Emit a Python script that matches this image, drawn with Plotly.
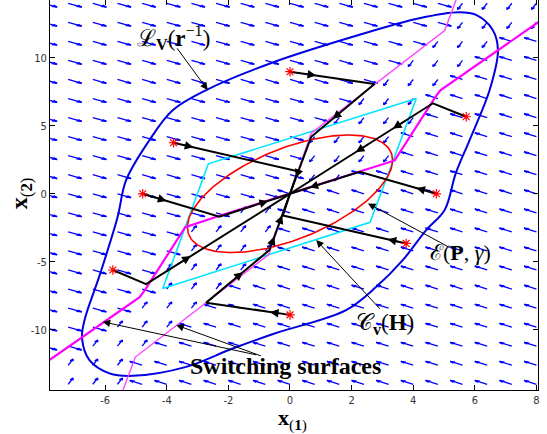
import numpy as np
import plotly.graph_objects as go

# ---------------- data ----------------
# quiver grid (tails of the field arrows)
grid_x = [-8.0, -7.2, -6.4, -5.6, -4.8, -4.0, -3.2, -2.4, -1.6, -0.8, 0.0,
          0.8, 1.6, 2.4, 3.2, 4.0, 4.8, 5.6, 6.4, 7.2, 8.0]
grid_y = [-14.0, -12.6, -11.2, -9.8, -8.4, -7.0, -5.6, -4.2, -2.8, -1.4, 0.0,
          1.4, 2.8, 4.2, 5.6, 7.0, 8.4, 9.8, 11.2, 12.6, 14.0]

# field vector in each of the four regions cut by the switching surfaces
vec_upper_left = (0.44, -0.28)
vec_lower_right = (-0.40, 0.28)
vec_upper_wedge = (-0.16, -0.45)
vec_lower_wedge = (0.16, 0.45)

# switching surfaces (two polylines through the origin)
swA_x = [-8.16, -4.88, -4.70, -3.40, -2.26, 0.0, 2.26, 3.40, 4.70, 4.88, 8.16]
swA_y = [-12.77, -7.60, -7.05, -2.45, -1.60, 0.0, 1.60, 2.45, 7.05, 7.60, 12.77]
swB_x = [-5.45, -5.02, -0.69, 0.0, 0.69, 5.02, 5.45]
swB_y = [-14.60, -12.00, -4.46, 0.0, 4.46, 12.00, 14.60]

# level set L_V(r^-1) (blue)
lv_x = [1.82, 2.80, 3.66, 4.42, 5.02, 5.38, 5.83, 6.48, 6.75, 6.58, 6.04, 5.50,
        4.20, 2.04, -0.56, -2.72, -3.80, -4.56, -5.32, -5.60, -6.18, -6.67, -6.75,
        -6.51, -5.86, -5.10, -3.37, -1.86, -0.50, 1.82]
lv_y = [-8.55, -6.84, -4.88, -2.67, -1.20, 1.50, 3.95, 7.62, 10.57, 12.04, 13.14, 13.34,
        12.90, 11.54, 9.65, 7.62, 6.15, 3.95, 1.00, -1.75, -6.00, -9.29, -10.63,
        -12.23, -13.20, -13.38, -12.72, -11.37, -10.27, -8.55]

# polytope C_v(H) (cyan)
cv_x = [4.10, 2.60, -4.13, -2.65, 4.10]
cv_y = [7.00, -2.10, -6.96, 2.20, 7.00]

# ellipse E(P, gamma): shape matrix (P/gamma)^-1
ell_Q = [[11.09, 8.20], [8.20, 18.66]]

# trajectories (black), start points marked with red stars
traj_1 = ([0.00, 2.74, 0.69, 0.0], [8.97, 8.06, 4.19, 0.0])
traj_2 = ([5.72, 4.64, 0.0], [5.66, 6.65, 0.0])
traj_3 = ([4.75, 2.26, 0.0], [0.00, 1.62, 0.0])
traj_4 = ([-4.78, -2.29, 0.0], [0.00, -1.69, 0.0])
traj_5 = ([-3.78, 0.25, 0.0], [3.75, 1.65, 0.0])
traj_6 = ([3.77, -0.23, 0.0], [-3.65, -1.60, 0.0])
traj_7 = ([0.00, -2.72, -0.67, 0.0], [-8.90, -8.00, -4.14, 0.0])
traj_8 = ([-5.75, -4.67, 0.0], [-5.60, -6.64, 0.0])
trajectories = [traj_1, traj_2, traj_3, traj_4, traj_5, traj_6, traj_7, traj_8]
# arrow heads on trajectories: (trajectory index, segment index, fraction)
traj_heads = [(0, 0, 0.31), (0, 1, 0.66), (0, 2, 0.72),
              (1, 0, 0.30), (1, 1, 0.28), (1, 1, 0.54),
              (2, 0, 0.26), (2, 1, 0.72),
              (3, 0, 0.31), (3, 1, 0.69),
              (4, 0, 0.16),
              (5, 0, 0.15),
              (6, 0, 0.24), (6, 1, 0.58), (6, 2, 0.24), (6, 2, 0.62),
              (7, 0, 0.50), (7, 1, 0.31)]

x_ticks = [-6, -4, -2, 0, 2, 4, 6, 8]
y_ticks = [-10, -5, 0, 5, 10]
x_range = [-7.79, 8.05]
y_range = [-14.42, 14.24]

# ---------------- figure ----------------
fig = go.Figure()

# quiver field
A_x = np.array(swA_x); A_y = np.array(swA_y)
B_x = np.array(swB_x); B_y = np.array(swB_y)
alpha, beta = 0.33, 0.33
qx, qy = [], []
for yv in grid_y:
    for xv in grid_x:
        above_A = yv > np.interp(xv, A_x, A_y)
        left_B = xv < np.interp(yv, B_y, B_x)
        if above_A and left_B:
            u, v = vec_upper_left
        elif above_A:
            u, v = vec_upper_wedge
        elif left_B:
            u, v = vec_lower_wedge
        else:
            u, v = vec_lower_right
        tx, ty = xv + u, yv + v
        qx += [xv, tx, None, tx - alpha * (u + beta * v), tx, tx - alpha * (u - beta * v), None]
        qy += [yv, ty, None, ty - alpha * (v - beta * u), ty, ty - alpha * (v + beta * u), None]
fig.add_trace(go.Scatter(x=qx, y=qy, mode="lines", line=dict(color="#0000ff", width=1.3),
                         hoverinfo="skip"))

# blue level set
fig.add_trace(go.Scatter(x=lv_x, y=lv_y, mode="lines",
                         line=dict(color="#0000e0", width=2, shape="spline", smoothing=1.0)))
# cyan polytope
fig.add_trace(go.Scatter(x=cv_x, y=cv_y, mode="lines", line=dict(color="#00e5ff", width=1.6)))
# red ellipse
L = np.linalg.cholesky(np.array(ell_Q))
t = np.linspace(0, 2 * np.pi, 200)
pts = L @ np.vstack([np.cos(t), np.sin(t)])
fig.add_trace(go.Scatter(x=pts[0], y=pts[1], mode="lines", line=dict(color="#ff0000", width=1.6)))
# switching surfaces
fig.add_trace(go.Scatter(x=swA_x, y=swA_y, mode="lines", line=dict(color="#ff00ff", width=2.2)))
fig.add_trace(go.Scatter(x=swB_x, y=swB_y, mode="lines", line=dict(color="#ff44ff", width=1.4)))

# trajectories
for tx_, ty_ in trajectories:
    fig.add_trace(go.Scatter(x=tx_, y=ty_, mode="lines", line=dict(color="black", width=2)))
fig.add_trace(go.Scatter(x=[tr[0][0] for tr in trajectories], y=[tr[1][0] for tr in trajectories],
                         mode="markers",
                         marker=dict(symbol="asterisk-open", size=8, color="red",
                                     line=dict(color="red", width=1.2))))

annotations = []
for ti, si, fr in traj_heads:
    xs, ys = trajectories[ti]
    x0, y0, x1, y1 = xs[si], ys[si], xs[si + 1], ys[si + 1]
    hx, hy = x0 + fr * (x1 - x0), y0 + fr * (y1 - y0)
    bx, by = x0 + (fr - 0.1) * (x1 - x0), y0 + (fr - 0.1) * (y1 - y0)
    annotations.append(dict(x=hx, y=hy, ax=bx, ay=by, xref="x", yref="y", axref="x", ayref="y",
                            text="", showarrow=True, arrowhead=2, arrowsize=1.15,
                            arrowwidth=1.5, arrowcolor="black", standoff=0))

# pointer labels
serif = "Liberation Serif, DejaVu Serif, serif"
label_arrows = [((-3.70, 10.80), (-2.67, 7.62)),
                ((5.23, -4.01), (2.53, -0.71)),
                ((2.96, -8.56), (0.85, -3.40)),
                ((-1.05, -11.86), (-6.08, -9.41)),
                ((-0.90, -11.95), (-3.69, -9.65))]
for (tx0, ty0), (hx, hy) in label_arrows:
    annotations.append(dict(x=hx, y=hy, ax=tx0, ay=ty0, xref="x", yref="y", axref="x", ayref="y",
                            text="", showarrow=True, arrowhead=2, arrowsize=1.5,
                            arrowwidth=1.0, arrowcolor="black", standoff=0))

texts = [(-3.78, 11.45, "ℒ<sub><b>V</b></sub>(<b>r</b><sup>−1</sup>)", 23),
         (5.55, -4.35, "ℰ(<b>P</b>, <i>γ</i>)", 22),
         (3.07, -9.60, "𝒞<sub><b>v</b></sub>(<b>H</b>)", 23),
         (-0.15, -12.65, "<b>Switching surfaces</b>", 24)]
for x_, y_, s_, fs in texts:
    annotations.append(dict(x=x_, y=y_, xref="x", yref="y", text=s_, showarrow=False,
                            font=dict(family=serif, size=fs, color="black"), bgcolor="rgba(0,0,0,0)"))

# axis titles
annotations.append(dict(x=(292 - 50) / 488, y=-0.033, xref="paper", yref="paper", yanchor="top",
                        text="<b>x</b><sub>(<b>1</b>)</sub>", showarrow=False,
                        font=dict(family=serif, size=22, color="black")))
annotations.append(dict(x=-0.094, y=0.505, xref="paper", yref="paper", textangle=-90,
                        text="<b>x</b><sub>(<b>2</b>)</sub>", showarrow=False,
                        font=dict(family=serif, size=24, color="black")))

tickfont = dict(family="Liberation Sans Narrow, DejaVu Sans Condensed, Liberation Sans, sans-serif",
                size=11, color="#333333")
fig.update_layout(
    width=547, height=434,
    margin=dict(l=50, r=9, t=0, b=44),
    paper_bgcolor="white", plot_bgcolor="white",
    showlegend=False,
    annotations=annotations,
    xaxis=dict(range=x_range, tickvals=x_ticks, ticktext=[str(v) for v in x_ticks],
               ticks="inside", ticklen=5, tickcolor="black", showline=True, linecolor="black",
               linewidth=1, mirror="ticks", showgrid=False, zeroline=False, tickfont=tickfont),
    yaxis=dict(range=y_range, tickvals=y_ticks, ticktext=[str(v) for v in y_ticks],
               ticks="inside", ticklen=5, tickcolor="black", showline=True, linecolor="black",
               linewidth=1, mirror="ticks", showgrid=False, zeroline=False, tickfont=tickfont),
)

fig.write_html("out.html", config={"displayModeBar": False},
               post_script="document.body.style.margin='0px';")
